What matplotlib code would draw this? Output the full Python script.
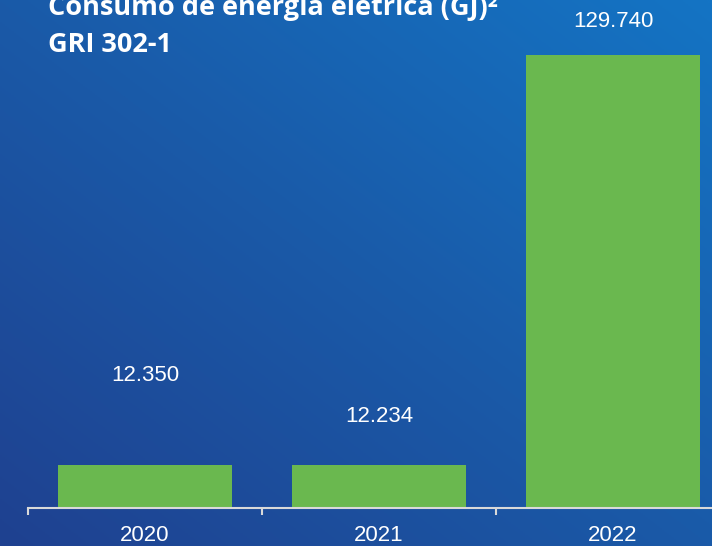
import numpy as np
import matplotlib.pyplot as plt
from matplotlib.colors import LinearSegmentedColormap

years = ['2020', '2021', '2022']
consumo = [12350, 12234, 129740]
rotulos = ['12.350', '12.234', '129.740']
# how far (in points) each value label sits above its bar, as in the original
desloc = [64, 35, 24]

titulo1 = 'Consumo de energia elétrica (GJ)²'
titulo2 = 'GRI 302-1'

fig = plt.figure(figsize=(7.12, 5.46), dpi=100)

# blue diagonal gradient background
bg = fig.add_axes([0, 0, 1, 1], zorder=0)
xx, yy = np.meshgrid(np.linspace(0, 1, 300), np.linspace(0, 1, 300))
grad = (xx + (1 - yy)) / 2
cmap = LinearSegmentedColormap.from_list('bg', ['#1f4190', '#1a5aa8', '#1474c4'])
bg.imshow(grad, cmap=cmap, aspect='auto', extent=[0, 1, 0, 1], origin='upper')
bg.axis('off')

W, H = 712, 546
ax = fig.add_axes([28 / W, 38 / H, 702 / W, 489 / H], zorder=1)
ax.patch.set_alpha(0)

x = np.arange(len(years))
ax.bar(x, consumo, width=0.74, color='#6ab84f')
ax.set_xlim(-0.5, 2.5)
ax.set_ylim(0, 140000)

for xi, v, lab, d in zip(x, consumo, rotulos, desloc):
    ax.annotate(lab, (xi, v), xytext=(0, d), textcoords='offset points',
                ha='center', va='center', color='white', fontsize=16,
                family='Liberation Sans')

for s in ['top', 'right', 'left']:
    ax.spines[s].set_visible(False)
ax.spines['bottom'].set_color('#d9d9d9')
ax.spines['bottom'].set_linewidth(1.5)
ax.set_yticks([])
ax.set_xticks([-0.5, 0.5, 1.5, 2.5])
ax.set_xticklabels([])
ax.tick_params(axis='x', which='major', length=5, width=1.5, color='#d9d9d9')
ax.set_xticks(x, minor=True)
ax.set_xticklabels(years, minor=True, color='white', fontsize=16,
                   family='Liberation Sans')
ax.tick_params(axis='x', which='minor', length=0, pad=12)

fig.text(48 / W, 1 - 15 / H, titulo1, color='white', fontsize=19.5,
         fontweight='bold', family='Open Sans', va='baseline')
fig.text(48 / W, 1 - 52 / H, titulo2, color='white', fontsize=19.5,
         fontweight='bold', family='Open Sans', va='baseline')

fig.savefig('out.png', dpi=100)
